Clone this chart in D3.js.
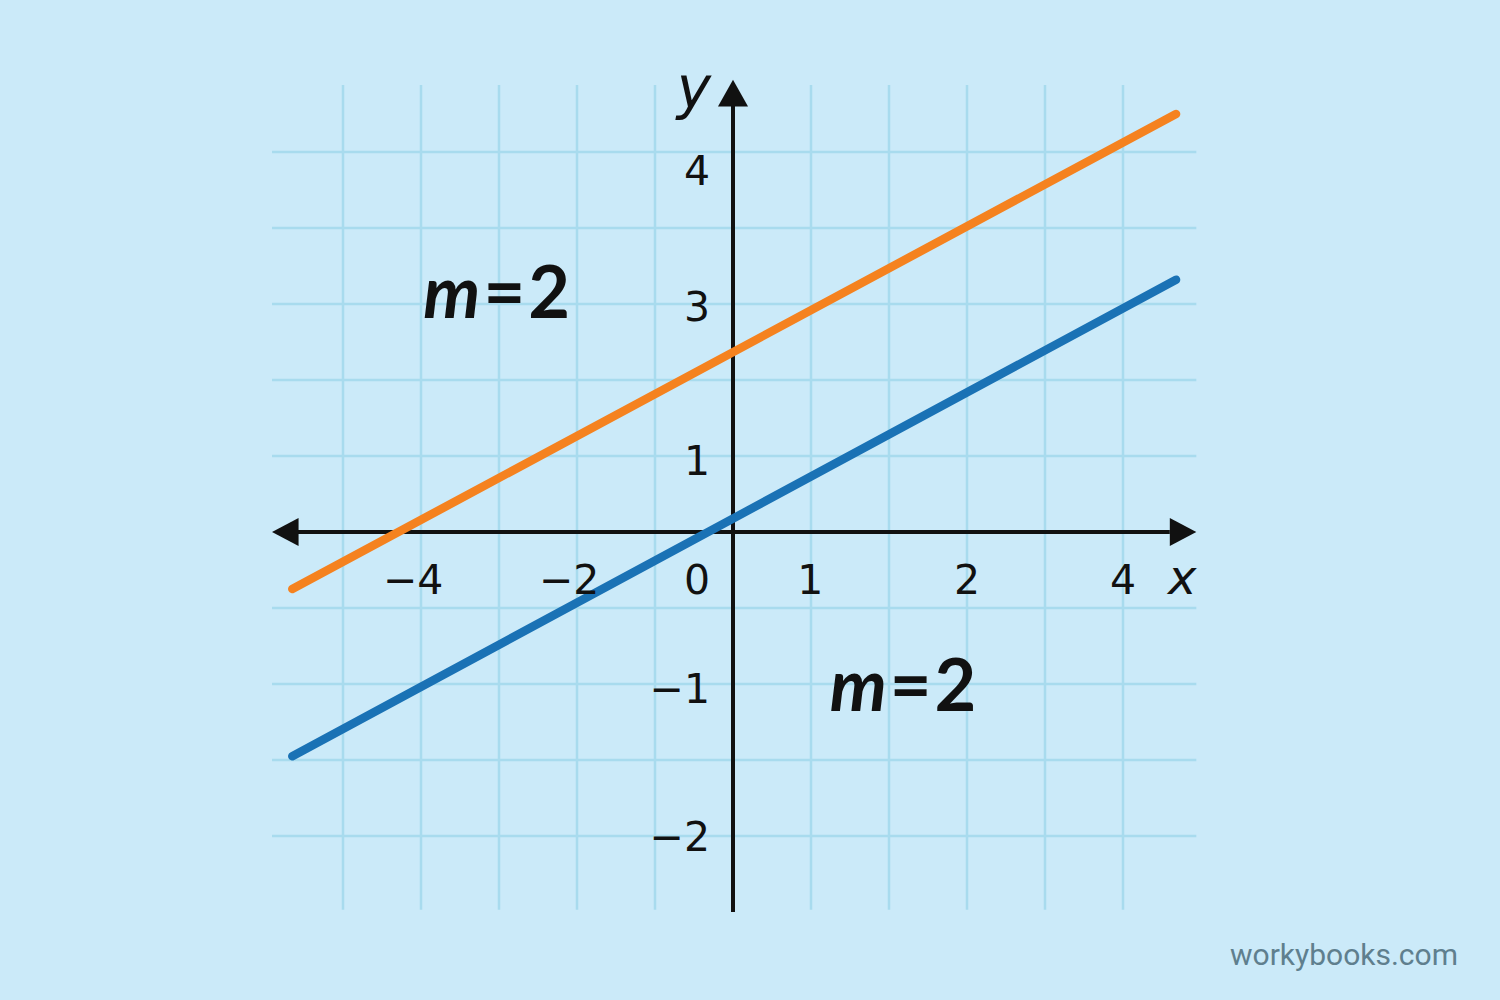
<!DOCTYPE html>
<html>
<head>
<meta charset="utf-8">
<script src="https://cdn.jsdelivr.net/npm/d3@7"></script>
<style>
  html, body { margin: 0; padding: 0; background: #cbeaf9; }
  svg { display: block; }
  .tick-label { font-family: "DejaVu Sans", sans-serif; font-size: 41px; fill: #111; }
</style>
</head>
<body>
<svg></svg>
<script>
// grid positions (grid units)
const gridX = [-5, -4, -3, -2, -1, 1, 2, 3, 4, 5];
const gridY = [-4, -3, -2, -1, 1, 2, 3, 4, 5];

// tick labels as drawn in the picture (position in grid units, text)
const xTickPos = [-4.1, -2.1, -0.46, 0.99, 3.0, 5.0];
const xTickLabels = ['\u22124', '\u22122', '0', '1', '2', '4'];
const yTickPos = [4.76, 2.97, 0.95, -2.05, -4.0];
const yTickLabels = ['4', '3', '1', '\u22121', '\u22122'];

// the two parallel lines, endpoints in grid units
const orangeLine = [{x: -5.65, y: -0.75}, {x: 5.68, y: 5.5}];
const blueLine = [{x: -5.65, y: -2.95}, {x: 5.68, y: 3.32}];

// slope labels
const slopeLabels = [{x: -3.97, y: 2.82, text: '2'}, {x: 1.24, y: -2.35, text: '2'}];

var width = 1500, height = 1000;

const xScale = d3.scaleLinear()
    .domain([-6, 6])
    .range([733 - 6 * 78, 733 + 6 * 78]);

const yScale = d3.scaleLinear()
    .domain([-6, 6])
    .range([532 + 6 * 76, 532 - 6 * 76]);

const container = d3.select('svg')
    .attr('width', width)
    .attr('height', height);

container.append('rect')
    .attr('width', width)
    .attr('height', height)
    .attr('fill', '#cbeaf9');

// grid
const grid = container.append('g')
    .attr('stroke', '#a8dbee')
    .attr('stroke-width', 2.5);

grid.selectAll('.vgrid')
    .data(gridX)
    .enter()
    .append('line')
    .attr('x1', d => xScale(d))
    .attr('x2', d => xScale(d))
    .attr('y1', yScale(5.88))
    .attr('y2', yScale(-4.97));

grid.selectAll('.hgrid')
    .data(gridY)
    .enter()
    .append('line')
    .attr('y1', d => yScale(d))
    .attr('y2', d => yScale(d))
    .attr('x1', xScale(-5.91))
    .attr('x2', xScale(5.94));

// axes with arrows
const axisColor = '#111';
container.append('line')
    .attr('x1', xScale(-5.6)).attr('x2', xScale(5.6))
    .attr('y1', yScale(0)).attr('y2', yScale(0))
    .attr('stroke', axisColor).attr('stroke-width', 4);

container.append('line')
    .attr('x1', xScale(0)).attr('x2', xScale(0))
    .attr('y1', yScale(-5.0)).attr('y2', yScale(5.7))
    .attr('stroke', axisColor).attr('stroke-width', 4);

// arrow heads
const x0 = xScale(0), y0 = yScale(0);
container.append('path')
    .attr('d', `M${xScale(5.94)},${y0} L${xScale(5.6)},${y0 - 14} L${xScale(5.6)},${y0 + 14} Z`)
    .attr('fill', axisColor);
container.append('path')
    .attr('d', `M${xScale(-5.91)},${y0} L${xScale(-5.57)},${y0 - 14} L${xScale(-5.57)},${y0 + 14} Z`)
    .attr('fill', axisColor);
container.append('path')
    .attr('d', `M${x0},${yScale(5.95)} L${x0 - 15},${yScale(5.6)} L${x0 + 15},${yScale(5.6)} Z`)
    .attr('fill', axisColor);

// lines
const line = d3.line().x(d => xScale(d.x)).y(d => yScale(d.y));

container.append('path')
    .datum(orangeLine)
    .attr('d', line)
    .attr('fill', 'none')
    .attr('stroke', '#f5821f')
    .attr('stroke-width', 8.5)
    .attr('stroke-linecap', 'round');

container.append('path')
    .datum(blueLine)
    .attr('d', line)
    .attr('fill', 'none')
    .attr('stroke', '#1a72b5')
    .attr('stroke-width', 8.5)
    .attr('stroke-linecap', 'round');

// tick labels
container.selectAll('.xtick')
    .data(xTickPos)
    .enter()
    .append('text')
    .classed('tick-label', true)
    .attr('text-anchor', 'middle')
    .attr('x', d => xScale(d))
    .attr('y', yScale(0) + 62)
    .text((d, i) => xTickLabels[i]);

container.selectAll('.ytick')
    .data(yTickPos)
    .enter()
    .append('text')
    .classed('tick-label', true)
    .attr('text-anchor', 'end')
    .attr('x', xScale(0) - 23)
    .attr('y', d => yScale(d) + 15)
    .text((d, i) => yTickLabels[i]);

// axis names
container.append('text')
    .attr('x', xScale(5.94))
    .attr('y', yScale(0) + 62)
    .attr('text-anchor', 'end')
    .style('font-family', 'DejaVu Sans, sans-serif')
    .style('font-style', 'italic')
    .style('font-size', '48px')
    .attr('fill', '#111')
    .text('x');

container.append('text')
    .attr('x', xScale(0) - 22)
    .attr('y', 108)
    .attr('text-anchor', 'end')
    .style('font-family', 'DejaVu Sans, sans-serif')
    .style('font-style', 'italic')
    .style('font-size', '58px')
    .attr('fill', '#111')
    .text('y');

// slope labels
const labels = container.selectAll('.slope')
    .data(slopeLabels)
    .enter()
    .append('text')
    .attr('x', d => xScale(d.x))
    .attr('y', d => yScale(d.y))
    .style('font-family', 'Lato, sans-serif')
    .style('font-size', '72px')
    .style('font-weight', 'bold')
    .style('letter-spacing', '3px')
    .attr('fill', '#111');

labels.append('tspan')
    .style('font-style', 'italic')
    .text('m');
labels.append('tspan')
    .text(d => '=' + d.text);

// watermark
container.append('text')
    .attr('x', 1458)
    .attr('y', 965)
    .attr('text-anchor', 'end')
    .style('font-family', 'Roboto, sans-serif')
    .style('font-size', '30px')
    .attr('fill', '#5f7f8e')
    .text('workybooks.com');
</script>
</body>
</html>
